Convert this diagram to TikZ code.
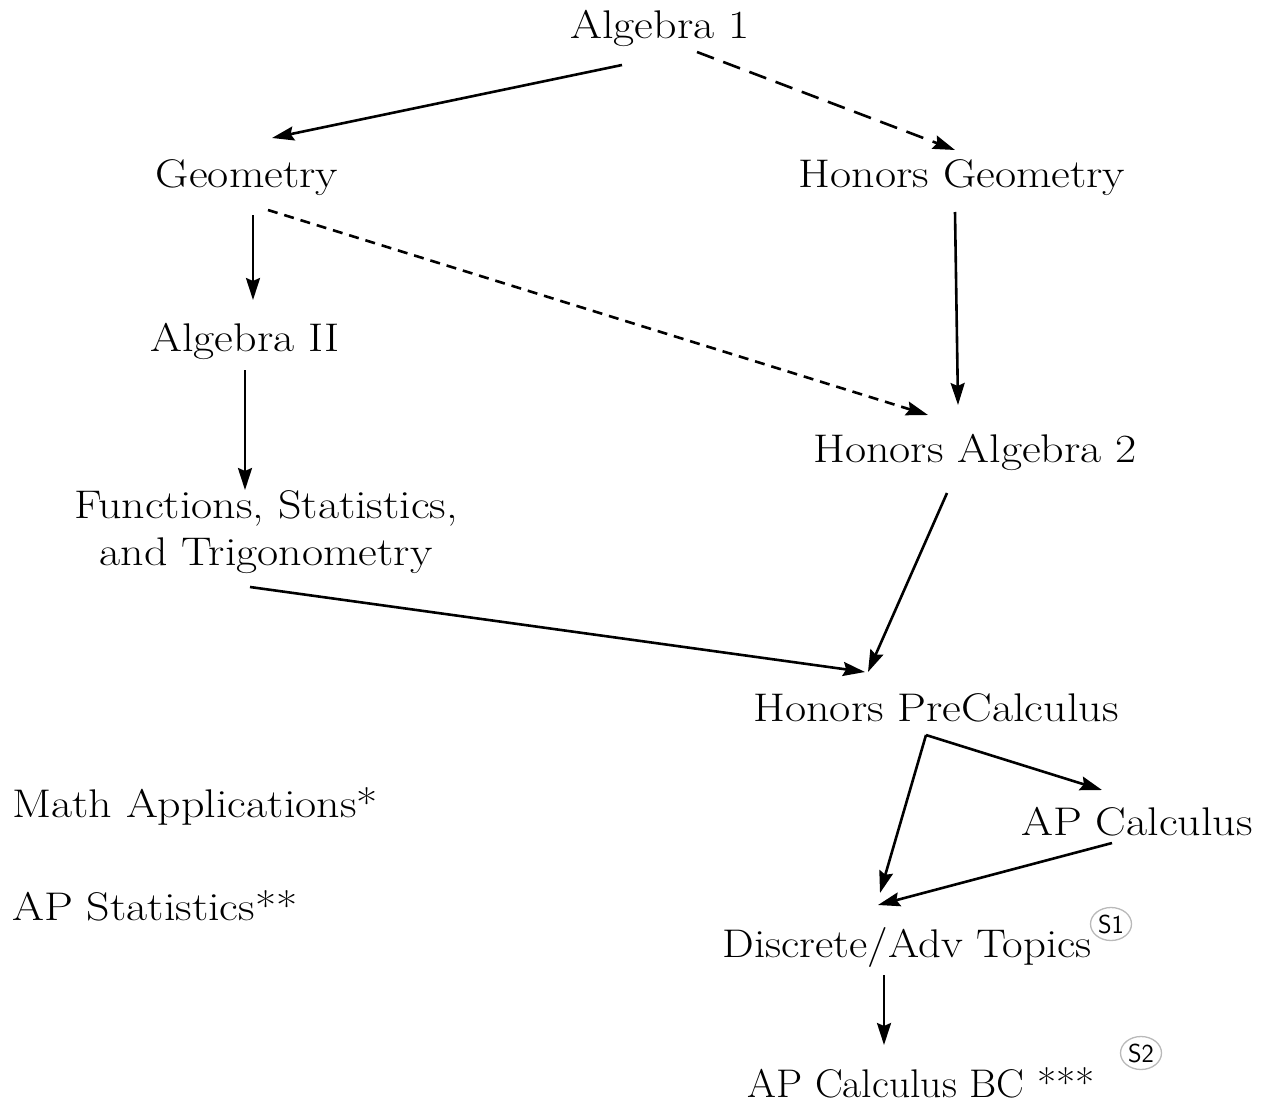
\documentclass[tikz,border=0pt]{standalone}
\usepackage{fontspec}
\usetikzlibrary{arrows.meta,shapes.geometric}
\newcommand\wtxt[2][1.15]{\scalebox{#1}[1]{#2}}
\begin{document}
\begin{tikzpicture}[x=1pt,y=-1pt,
  lbl/.style={font=\fontsize{40}{47}\selectfont, inner sep=0pt, anchor=base},
  lbll/.style={lbl, anchor=base west},
  arr/.style={line width=2.6pt, -{Stealth[length=22pt,width=14pt,inset=3pt]}},
  dsh/.style={arr, dash pattern=on 18pt off 10pt},
  dot/.style={arr, dash pattern=on 10pt off 7pt},
  tag/.style={ellipse, draw=gray!55, line width=1.3pt, inner sep=0pt, minimum width=41pt, minimum height=33pt, font=\sffamily\fontsize{26}{26}\selectfont}
]
\useasboundingbox (0,0) rectangle (1265,1108);
\node[lbl] (a1) at (660,39) {\wtxt{Algebra 1}};
\node[lbl] (geo) at (247,187) {\wtxt{Geometry}};
\node[lbl] (hgeo) at (962,187) {\wtxt{Honors Geometry}};
\node[lbl] (a2) at (245,351) {\wtxt{Algebra II}};
\node[lbl] (ha2) at (975,462) {\wtxt{Honors Algebra 2}};
\node[lbl, align=center, anchor=north] (fst) at (266,490) {\wtxt{Functions, Statistics,}\\\wtxt{and Trigonometry}};
\node[lbl] (hpc) at (936,721) {\wtxt{Honors PreCalculus}};
\node[lbl] (apc) at (1137,835) {\wtxt{AP Calculus}};
\node[lbll] (mapp) at (12,817) {\wtxt{Math Applications*}};
\node[lbll] (aps) at (12,920) {\wtxt{AP Statistics**}};
\node[lbl] (dis) at (907,957) {\wtxt[1.12]{Discrete/Adv Topics}};
\node[lbl] (bc) at (921,1097) {\wtxt[1.04]{AP Calculus BC ***}};
\node[tag] (s1) at (1111,924) {S1};
\node[tag] (s2) at (1141,1053) {S2};
% connectors
\draw[arr] ([shift={(-38,26)}]a1.base) -- ([shift={(25,-49)}]geo.base);
\draw[dsh] ([shift={(37,13)}]a1.base) -- ([shift={(-7,-37)}]hgeo.base);
\draw[arr] ([shift={(6,28)}]geo.base) -- ([shift={(8,-51)}]a2.base);
\draw[dot] ([shift={(21,23)}]geo.base) -- ([shift={(-47,-47)}]ha2.base);
\draw[arr] ([shift={(-7,25)}]hgeo.base) -- ([shift={(-17,-57)}]ha2.base);
\draw[arr] ([shift={(0,19)}]a2.base) -- ([shift={(-21,0)}]fst.north);
\draw[arr] ([shift={(-16,97)}]fst.north) -- ([shift={(-71,-49)}]hpc.base);
\draw[arr] ([shift={(-28,31)}]ha2.base) -- ([shift={(-68,-49)}]hpc.base);
\draw[arr] ([shift={(-10,14)}]hpc.base) -- ([shift={(-35,-45)}]apc.base);
\draw[arr] ([shift={(-10,14)}]hpc.base) -- ([shift={(-27,-64)}]dis.base);
\draw[arr] ([shift={(-25,8)}]apc.base) -- ([shift={(-29,-52)}]dis.base);
\draw[arr] ([shift={(-23,18)}]dis.base) -- ([shift={(-37,-52)}]bc.base);
\end{tikzpicture}
\end{document}
